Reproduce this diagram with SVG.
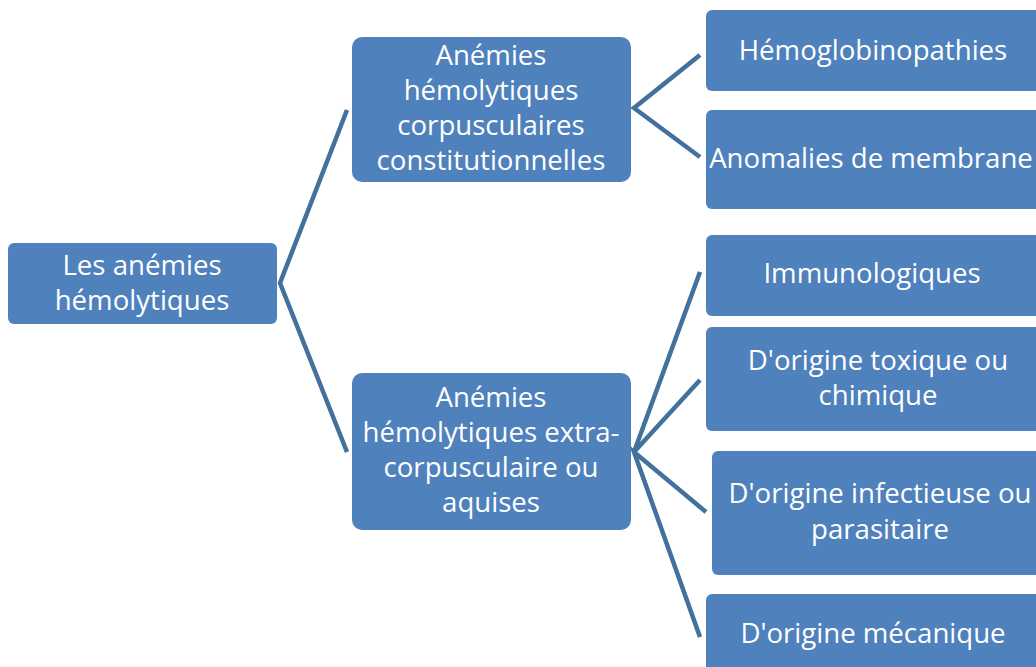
<svg xmlns="http://www.w3.org/2000/svg" width="1036" height="667" viewBox="0 0 1036 667">
<style>
.box{fill:#4F81BD;}
.t{fill:#FFFFFF;font-family:"Open Sans","Liberation Sans",sans-serif;font-size:27.6px;text-anchor:middle;}
.c{stroke:#41719C;stroke-width:4.5;fill:none;stroke-linejoin:miter;}
</style>
<rect width="1036" height="667" fill="#FFFFFF"/>
<g id="connectors">
<polyline class="c" points="347,110 280,283 347,452"/>
<polyline class="c" points="700,55 634,108 700,157"/>
<polyline class="c" points="700,272 634,452 700,380"/>
<polyline class="c" points="706,512 634,452 700,637"/>
</g>
<g id="root">
<rect class="box" x="8" y="243" width="269" height="81" rx="6"/>
<text class="t" x="142" y="275">Les anémies</text>
<text class="t" x="142" y="310">hémolytiques</text>
</g>
<g id="corpusculaires">
<rect class="box" x="352" y="37" width="279" height="145" rx="10"/>
<text class="t" x="491" y="65">Anémies</text>
<text class="t" x="491" y="100">hémolytiques</text>
<text class="t" x="491" y="135">corpusculaires</text>
<text class="t" x="491" y="170">constitutionnelles</text>
</g>
<g id="extracorpusculaires">
<rect class="box" x="352" y="373" width="279" height="157" rx="10"/>
<text class="t" x="491" y="407">Anémies</text>
<text class="t" x="491" y="442">hémolytiques extra-</text>
<text class="t" x="491" y="477">corpusculaire ou</text>
<text class="t" x="491" y="512">aquises</text>
</g>
<g id="hemoglobinopathies">
<rect class="box" x="706" y="10" width="340" height="81" rx="6"/>
<text class="t" x="873" y="60">Hémoglobinopathies</text>
</g>
<g id="membrane">
<rect class="box" x="706" y="110" width="340" height="99" rx="6"/>
<text class="t" x="871" y="168">Anomalies de membrane</text>
</g>
<g id="immunologiques">
<rect class="box" x="706" y="235" width="340" height="81" rx="6"/>
<text class="t" x="872" y="283">Immunologiques</text>
</g>
<g id="toxique">
<rect class="box" x="706" y="327" width="340" height="104" rx="6"/>
<text class="t" x="878" y="370">D'origine toxique ou</text>
<text class="t" x="878" y="405">chimique</text>
</g>
<g id="infectieuse">
<rect class="box" x="712" y="451" width="340" height="124" rx="6"/>
<text class="t" x="880" y="503">D'origine infectieuse ou</text>
<text class="t" x="880" y="539">parasitaire</text>
</g>
<g id="mecanique">
<rect class="box" x="706" y="594" width="340" height="90" rx="6"/>
<text class="t" x="873" y="643">D'origine mécanique</text>
</g>
</svg>
